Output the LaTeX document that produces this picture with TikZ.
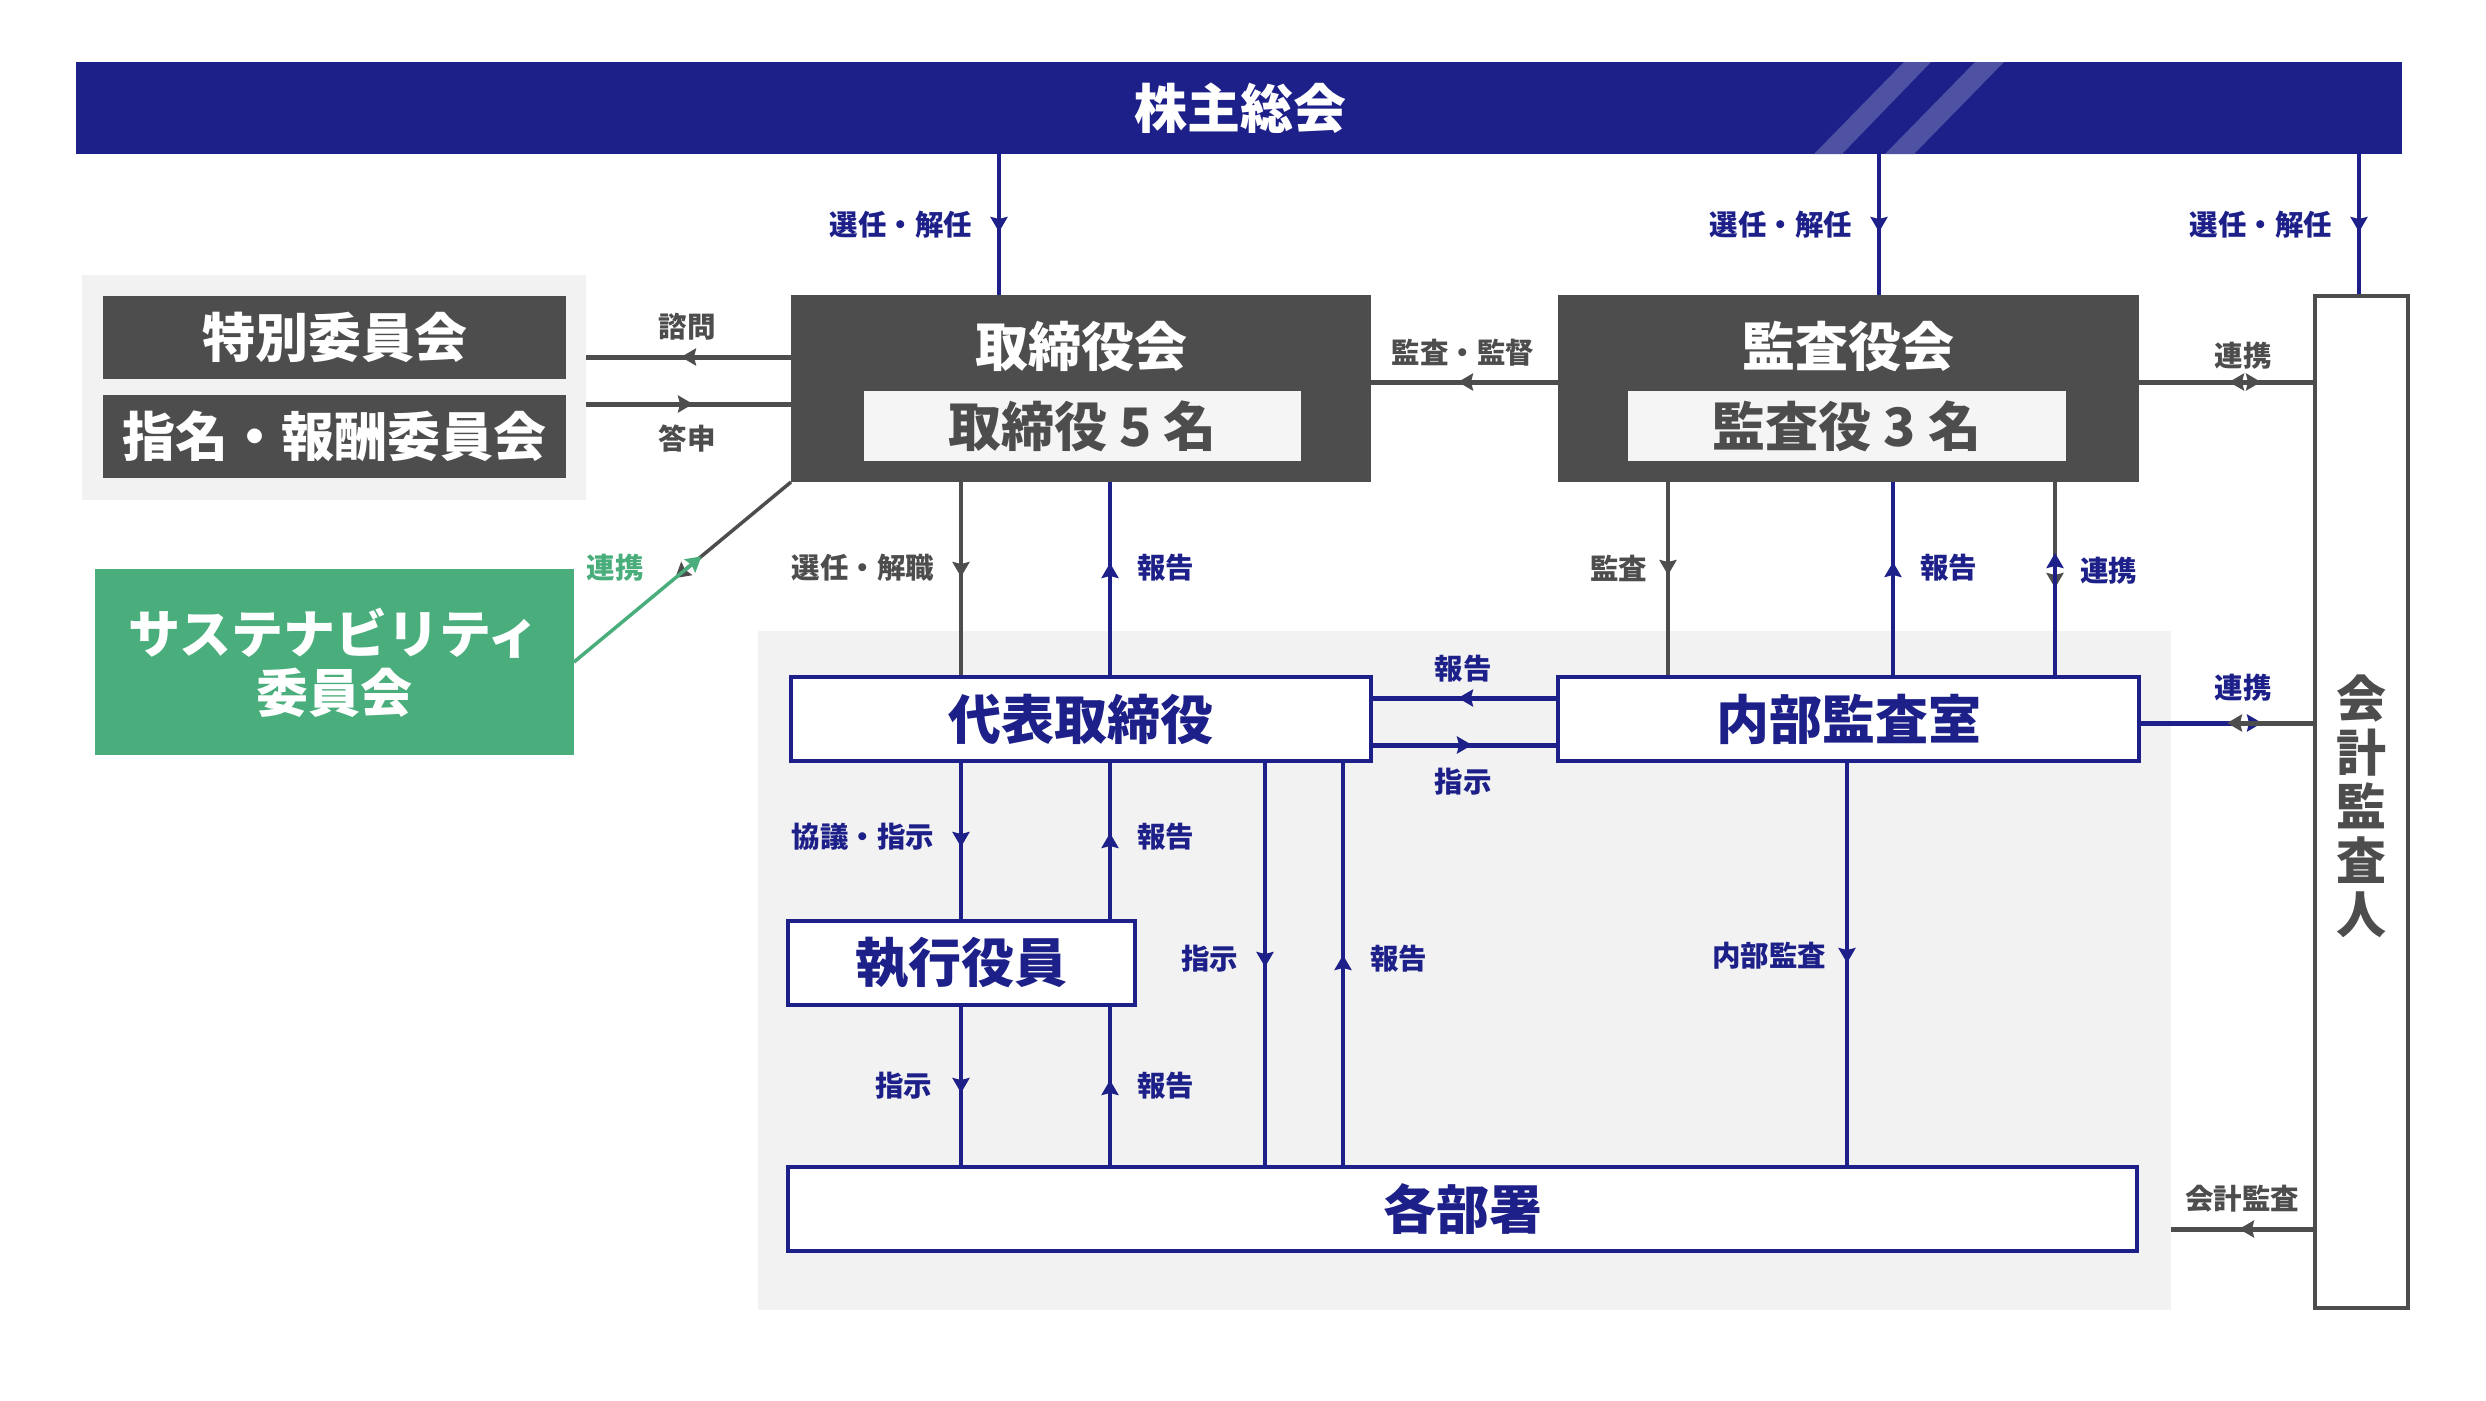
\documentclass[tikz,border=0pt]{standalone}
\usepackage{fontspec}
\setmainfont{Noto Sans CJK JP}
\usetikzlibrary{arrows.meta,decorations.markings,fit,calc}
\definecolor{navy}{HTML}{1D2088}
\definecolor{dgrey}{HTML}{4D4D4D}
\definecolor{lgrey}{HTML}{F2F2F2}
\definecolor{igrey}{HTML}{F5F5F5}
\definecolor{sgreen}{HTML}{4AAE7C}
\definecolor{stripecol}{HTML}{4F51A2}
\pgfdeclarelayer{back}
\pgfdeclarelayer{conn}
\pgfsetlayers{back,conn,main}
\tikzset{
  every node/.style={inner sep=0pt, outer sep=0pt},
  bigtxt/.style={font=\bfseries\fontsize{53}{58}\selectfont},
  lab/.style={font=\bfseries\fontsize{28.5}{31}\selectfont},
  darkbox/.style={fill=dgrey},
  innerbox/.style={fill=igrey},
  bluebox/.style={draw=navy, line width=4pt, fill=white},
  vline/.style={draw=#1, line width=3.5pt},
  hline/.style={draw=#1, line width=5pt},
  tipat/.style={postaction={decorate}, decoration={markings, mark=at position #1 with {\arrow{>}}}},
  >={Stealth[length=15pt,width=17pt,inset=2pt]},
}
\begin{document}
\begin{tikzpicture}[x=1pt,y=-1pt]
\useasboundingbox (0,0) rectangle (2486,1400);
% background areas
\begin{pgfonlayer}{back}
\node[fit={(758,631) (2171,1310)}, fill=lgrey] (area) {};
\node[fit={(82,275) (586,500)}, fill=lgrey] (grp) {};
\end{pgfonlayer}
% top bar
\node[fit={(76,62) (2402,154)}, fill=navy] (bar) {};
\fill[stripecol] (1814,154) -- (1904,62) -- (1931,62) -- (1842,154) -- cycle;
\fill[stripecol] (1885,154) -- (1975,62) -- (2004,62) -- (1914,154) -- cycle;
\node[bigtxt, text=white] (barT) at (1240,108) {株主総会};
% committees
\node[fit={(103,296) (566,379)}, darkbox] (toku) {};
\node[bigtxt, text=white] (tokuT) at (toku.center) {特別委員会};
\node[fit={(103,395) (566,478)}, darkbox] (shim) {};
\node[bigtxt, text=white] (shimT) at (shim.center) {指名・報酬委員会};
% board
\node[fit={(791,295) (1371,482)}, darkbox] (tb) {};
\node[bigtxt, text=white] (tbT) at (1081,346) {取締役会};
\node[fit={(864,391) (1301,461)}, innerbox] (tbIn) {};
\node[bigtxt, text=dgrey] (tbInT) at (tbIn.center) {取締役 5 名};
% auditors board
\node[fit={(1558,295) (2139,482)}, darkbox] (ka) {};
\node[bigtxt, text=white] (kaT) at (1848,346) {監査役会};
\node[fit={(1628,391) (2066,461)}, innerbox] (kaIn) {};
\node[bigtxt, text=dgrey] (kaInT) at (kaIn.center) {監査役 3 名};
% accounting auditor
\node[fit={(2315,296) (2408,1308)}, draw=dgrey, line width=4pt, fill=white] (ak) {};
\node[text=dgrey, align=center, font=\bfseries\fontsize{50}{54}\selectfont] (akT) at (2361,806) {会\\計\\監\\査\\人};
% sustainability
\node[fit={(95,569) (574,755)}, fill=sgreen] (sust) {};
\node[text=white, align=center, font=\bfseries\fontsize{52}{59}\selectfont] (sustT) at (334,663) {サステナビリティ\\委員会};
% blue boxes
\node[fit={(791,677) (1371,761)}, bluebox] (dai) {};
\node[bigtxt, text=navy] (daiT) at (dai.center) {代表取締役};
\node[fit={(1558,677) (2139,761)}, bluebox] (nai) {};
\node[bigtxt, text=navy] (naiT) at (nai.center) {内部監査室};
\node[fit={(788,921) (1135,1005)}, bluebox] (shk) {};
\node[bigtxt, text=navy] (shkT) at (shk.center) {執行役員};
\node[fit={(788,1167) (2137,1251)}, bluebox] (kbs) {};
\node[bigtxt, text=navy] (kbsT) at (kbs.center) {各部署};
% helper coordinates
\coordinate (xA) at (999,0); \coordinate (xB) at (1879,0); \coordinate (xC) at (2359,0);
\coordinate (x1) at (961,0); \coordinate (x2) at (1110,0); \coordinate (x3) at (1265,0); \coordinate (x4) at (1343,0);
\coordinate (x5) at (1668,0); \coordinate (x6) at (1893,0); \coordinate (x7) at (2055,0); \coordinate (x8) at (1847,0);
\coordinate (yS) at (0,357); \coordinate (yT) at (0,404); \coordinate (yK) at (0,382);
\coordinate (yR) at (0,698); \coordinate (yI) at (0,745); \coordinate (yM) at (0,723); \coordinate (yA) at (0,1229);
\coordinate (kR) at (2261,382); \coordinate (kL) at (2229,382);
\coordinate (cU) at (2055,553); \coordinate (cD) at (2055,588);
\coordinate (mR) at (2262,723); \coordinate (mL) at (2227,723);
% connectors
\begin{pgfonlayer}{conn}
\draw[vline=navy, tipat=78pt] (bar.south -| xA) -- (tb.north -| xA);
\draw[vline=navy, tipat=78pt] (bar.south -| xB) -- (ka.north -| xB);
\draw[vline=navy, tipat=78pt] (bar.south -| xC) -- (ak.north -| xC);
\draw[hline=dgrey, tipat=110pt] (tb.west |- yS) -- (grp.east |- yS);
\draw[hline=dgrey, tipat=107pt] (grp.east |- yT) -- (tb.west |- yT);
\draw[hline=dgrey, tipat=100pt] (ka.west |- yK) -- (tb.east |- yK);
\draw[hline=dgrey, -{>}] (ka.east |- yK) -- (kR);
\draw[hline=dgrey, -{>}] (ak.west |- yK) -- (kL);
\draw[vline=dgrey, -{>}] (tb.south west) -- ($(tb.south west)!0.534!(sust.east)$);
\draw[vline=sgreen, -{>}] (sust.east) -- ($(sust.east)!0.587!(tb.south west)$);
\draw[vline=dgrey, tipat=95pt] (tb.south -| x1) -- (dai.north -| x1);
\draw[vline=navy, tipat=114pt] (dai.north -| x2) -- (tb.south -| x2);
\draw[vline=dgrey, tipat=93pt] (ka.south -| x5) -- (nai.north -| x5);
\draw[vline=navy, tipat=115pt] (nai.north -| x6) -- (ka.south -| x6);
\draw[vline=dgrey, -{>}] (ka.south -| x7) -- (cD);
\draw[vline=navy, -{>}] (nai.north -| x7) -- (cU);
\draw[hline=navy, tipat=100pt] (nai.west |- yR) -- (dai.east |- yR);
\draw[hline=navy, tipat=101pt] (dai.east |- yI) -- (nai.west |- yI);
\draw[hline=navy, -{>}] (nai.east |- yM) -- (mR);
\draw[hline=dgrey, -{>}] (ak.west |- yM) -- (mL);
\draw[vline=navy, tipat=86pt] (dai.south -| x1) -- (shk.north -| x1);
\draw[vline=navy, tipat=88pt] (shk.north -| x2) -- (dai.south -| x2);
\draw[vline=navy, tipat=88pt] (shk.south -| x1) -- (kbs.north -| x1);
\draw[vline=navy, tipat=87pt] (kbs.north -| x2) -- (shk.south -| x2);
\draw[vline=navy, tipat=206pt] (dai.south -| x3) -- (kbs.north -| x3);
\draw[vline=navy, tipat=212pt] (kbs.north -| x4) -- (dai.south -| x4);
\draw[vline=navy, tipat=202pt] (nai.south -| x8) -- (kbs.north -| x8);
\draw[hline=dgrey, tipat=76pt] (ak.west |- yA) -- (area.east |- yA);
\end{pgfonlayer}
% labels
\node[lab, text=navy, anchor=east] (l1) at (972,225) {選任・解任};
\node[lab, text=navy, anchor=east] (l2) at (1852,225) {選任・解任};
\node[lab, text=navy, anchor=east] (l3) at (2332,225) {選任・解任};
\node[lab, text=dgrey] (l4) at (687,327) {諮問};
\node[lab, text=dgrey] (l5) at (687,439) {答申};
\node[lab, text=dgrey] (l6) at (1463,353) {監査・監督};
\node[lab, text=dgrey] (l7) at (2243,356) {連携};
\node[lab, text=sgreen] (l8) at (615,568) {連携};
\node[lab, text=dgrey, anchor=east] (l9) at (934,568) {選任・解職};
\node[lab, text=navy, anchor=west] (l10) at (1137,568) {報告};
\node[lab, text=dgrey, anchor=east] (l11) at (1647,568) {監査};
\node[lab, text=navy, anchor=west] (l12) at (1920,568) {報告};
\node[lab, text=navy, anchor=west] (l13) at (2080,571) {連携};
\node[lab, text=navy] (l14) at (1463,669) {報告};
\node[lab, text=navy] (l15) at (1463,782) {指示};
\node[lab, text=navy] (l16) at (2243,688) {連携};
\node[lab, text=navy, anchor=east] (l17) at (934,837) {協議・指示};
\node[lab, text=navy, anchor=west] (l18) at (1137,837) {報告};
\node[lab, text=navy, anchor=east] (l19) at (1238,959) {指示};
\node[lab, text=navy, anchor=west] (l20) at (1370,959) {報告};
\node[lab, text=navy, anchor=east] (l21) at (1826,956) {内部監査};
\node[lab, text=navy, anchor=east] (l22) at (932,1086) {指示};
\node[lab, text=navy, anchor=west] (l23) at (1137,1086) {報告};
\node[lab, text=dgrey] (l24) at (2242,1199) {会計監査};
\end{tikzpicture}
\end{document}
